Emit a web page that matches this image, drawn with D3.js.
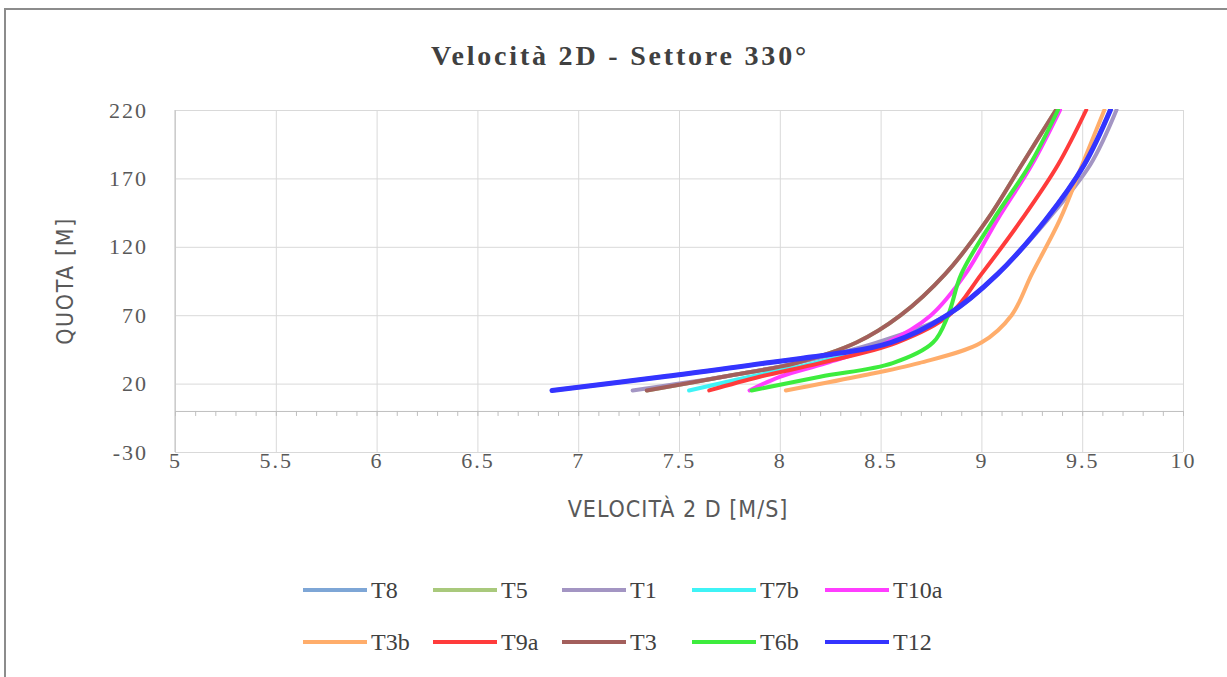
<!DOCTYPE html>
<html>
<head>
<meta charset="utf-8">
<script src="https://cdn.jsdelivr.net/npm/d3@7"></script>
<style>
  body { margin: 0; background: #fff; }
  svg { display: block; }
</style>
</head>
<body>
<svg id="chart" width="1227" height="677"></svg>
<script>
// quota levels shared by every series (m)
const quota = [15, 25, 35, 50, 70, 100, 140, 180, 220];

const seriesNames = ['T8', 'T5', 'T1', 'T7b', 'T10a', 'T3b', 'T9a', 'T3', 'T6b', 'T12'];
const seriesColors = ['#7ea6d6', '#a9c97c', '#a395c3', '#3ff3f6', '#ff3dff', '#ffad6b', '#ff3b3b', '#a35f5c', '#3dec3d', '#3434ff'];

// velocity 2D (m/s) at each quota level
const vT8   = [6.87, 7.42, 7.93, 8.55, 8.83, 9.08, 9.32, 9.51, 9.64];
const vT5   = [7.34, 7.72, 8.08, 8.38, 8.60, 8.82, 9.03, 9.20, 9.37];
const vT1   = [7.27, 7.72, 8.08, 8.48, 8.83, 9.08, 9.33, 9.54, 9.67];
const vT7b  = [7.55, 7.85, 8.17, 8.55, 8.83, 9.08, 9.32, 9.51, 9.64];
const vT10a = [7.85, 8.00, 8.23, 8.53, 8.75, 8.92, 9.08, 9.25, 9.39];
const vT3b  = [8.03, 8.38, 8.69, 9.00, 9.15, 9.25, 9.39, 9.50, 9.61];
const vT9a  = [7.65, 7.90, 8.20, 8.58, 8.84, 9.00, 9.20, 9.38, 9.52];
const vT3   = [7.34, 7.72, 8.08, 8.38, 8.60, 8.82, 9.03, 9.20, 9.37];
const vT6b  = [7.86, 8.20, 8.56, 8.76, 8.835, 8.90, 9.06, 9.24, 9.38];
const vT12  = [6.87, 7.42, 7.93, 8.55, 8.83, 9.08, 9.32, 9.51, 9.64];

const seriesValues = [vT8, vT5, vT1, vT7b, vT10a, vT3b, vT9a, vT3, vT6b, vT12];

const xTicks = [5, 5.5, 6, 6.5, 7, 7.5, 8, 8.5, 9, 9.5, 10];
const yTicks = [-30, 20, 70, 120, 170, 220];

const svg = d3.select('#chart');
const plotLeft = 175, plotRight = 1183, plotTop = 110, plotBottom = 452;

const x = d3.scaleLinear().domain([5, 10]).range([plotLeft, plotRight]);
const y = d3.scaleLinear().domain([-30, 220]).range([plotBottom, plotTop]);

// outer chart frame
svg.append('rect')
  .attr('x', 5).attr('y', 9).attr('width', 1240).attr('height', 700)
  .attr('fill', '#fff').attr('stroke', '#8c8c8c').attr('stroke-width', 2);

// title
svg.append('text')
  .attr('x', 620).attr('y', 65)
  .attr('text-anchor', 'middle')
  .style('font-family', '"Liberation Serif", serif')
  .style('font-weight', 'bold')
  .style('font-size', '28px')
  .style('letter-spacing', '2.8px')
  .attr('fill', '#404040')
  .text('Velocità 2D - Settore 330°');

// horizontal gridlines + y labels
const yAxis = svg.append('g')
  .attr('transform', `translate(${plotLeft},0)`)
  .call(d3.axisLeft(y).tickValues(yTicks).tickSize(-(plotRight - plotLeft)).tickPadding(27).tickFormat(String));
yAxis.select('.domain').remove();
yAxis.selectAll('line').attr('stroke', '#d9d9d9');

// vertical gridlines + x labels
const xAxis = svg.append('g')
  .attr('transform', `translate(0,${plotBottom})`)
  .call(d3.axisBottom(x).tickValues(xTicks).tickSize(-(plotBottom - plotTop)).tickPadding(0).tickFormat(String));
xAxis.select('.domain').remove();
xAxis.selectAll('line').attr('stroke', '#d9d9d9');

svg.selectAll('.tick text')
  .style('font-family', '"Liberation Serif", serif')
  .style('font-size', '22px')
  .style('letter-spacing', '2px')
  .attr('fill', '#595959');

// value axis line at left
svg.append('line')
  .attr('x1', plotLeft).attr('x2', plotLeft).attr('y1', plotTop).attr('y2', plotBottom)
  .attr('stroke', '#bfbfbf');

// category axis crossing at quota 0 with minor ticks
const minor = svg.append('g')
  .attr('transform', `translate(0,${y(0)})`)
  .call(d3.axisBottom(x).tickValues(d3.range(0, 51).map(i => 5 + i / 10)).tickSize(5).tickFormat(''));
minor.select('.domain').attr('stroke', '#bfbfbf');
minor.selectAll('line').attr('stroke', '#bfbfbf');

// axis titles
svg.append('text')
  .attr('transform', `translate(73,${(plotTop + plotBottom) / 2}) rotate(-90)`)
  .attr('text-anchor', 'middle')
  .style('font-family', '"Liberation Sans Narrow", "DejaVu Sans Condensed", sans-serif')
  .style('font-size', '23px')
  .style('letter-spacing', '1.6px')
  .attr('fill', '#595959')
  .text('QUOTA [M]');

svg.append('text')
  .attr('x', 678).attr('y', 517)
  .attr('text-anchor', 'middle')
  .style('font-family', '"Liberation Sans Narrow", "DejaVu Sans Condensed", sans-serif')
  .style('font-size', '23px')
  .style('letter-spacing', '1px')
  .attr('fill', '#595959')
  .text('VELOCITÀ 2 D [M/S]');

// series lines
svg.append('clipPath').attr('id', 'plot')
  .append('rect').attr('x', plotLeft).attr('y', plotTop - 1).attr('width', plotRight - plotLeft).attr('height', plotBottom - plotTop);

const line = d3.line()
  .x(d => x(d[0]))
  .y(d => y(d[1]))
  .curve(d3.curveCatmullRom.alpha(0.5));

const lines = svg.append('g').attr('clip-path', 'url(#plot)');
seriesNames.forEach((name, i) => {
  lines.append('path')
    .datum(seriesValues[i].map((v, j) => [v, quota[j]]))
    .attr('fill', 'none')
    .attr('stroke', seriesColors[i])
    .attr('stroke-width', name === 'T12' ? 5 : 4)
    .attr('stroke-linecap', 'round')
    .attr('d', line);
});

// legend, 5 columns by 2 rows
const legendX = [303, 433, 562, 692, 825];
const legendY = [590, 642];
seriesNames.forEach((name, i) => {
  const g = svg.append('g')
    .attr('transform', `translate(${legendX[i % 5]},${legendY[Math.floor(i / 5)]})`);
  g.append('line')
    .attr('x1', 0).attr('x2', 64).attr('y1', 0).attr('y2', 0)
    .attr('stroke', seriesColors[i]).attr('stroke-width', 4);
  g.append('text')
    .attr('x', 68).attr('y', 8)
    .style('font-family', '"Liberation Serif", serif')
    .style('font-size', '24px')
    .attr('fill', '#404040')
    .text(name);
});
</script>
</body>
</html>
